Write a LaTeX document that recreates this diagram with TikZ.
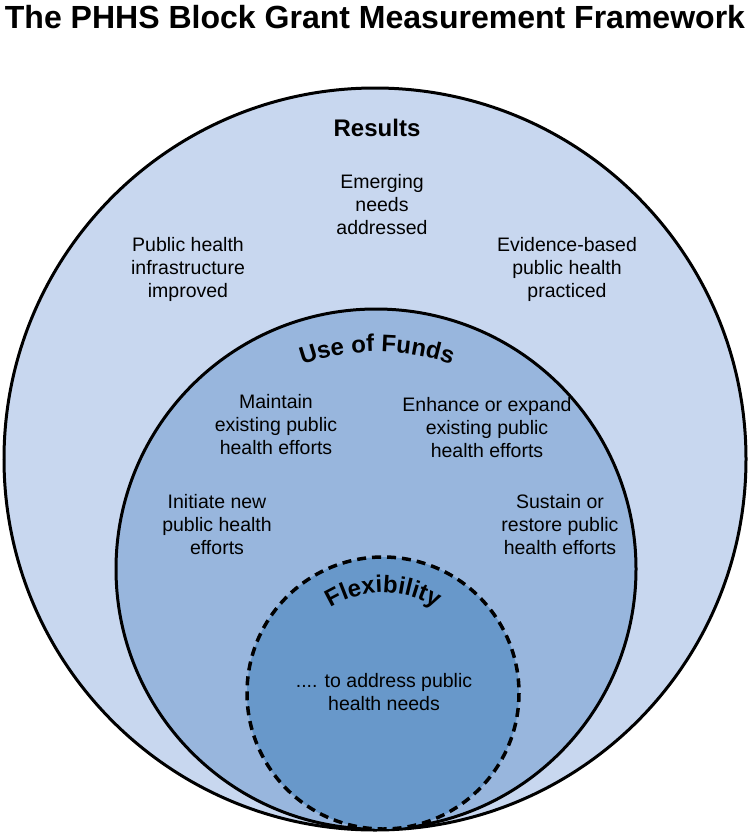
\documentclass[tikz,border=0pt]{standalone}
\usepackage{fontspec}
\setmainfont{Liberation Sans}
\usetikzlibrary{decorations.text}
\definecolor{cOut}{HTML}{C8D7EF}
\definecolor{cMid}{HTML}{98B6DD}
\definecolor{cIn}{HTML}{6898CA}
\tikzset{lbl/.style={align=center,font=\fontsize{19.5}{23}\selectfont},
hd/.style={font=\bfseries\fontsize{24}{28}\selectfont}}
\begin{document}
\begin{tikzpicture}[x=1pt,y=-1pt]
\useasboundingbox (0,0) rectangle (750,835);
\node[anchor=north] (title) at (375,2) {\resizebox{740pt}{!}{\bfseries The PHHS Block Grant Measurement Framework}};
\draw[line width=3pt,fill=cOut] (375,459) circle (371);
\draw[line width=3pt,fill=cMid] (376,569) circle (260);
\draw[line width=3.5pt,dash pattern=on 9pt off 6pt,fill=cIn] (383,693) circle (136);
\node[hd] (res) at (377,128) {Results};
\node[lbl] (e1) at (382,205) {Emerging\\needs\\addressed};
\node[lbl] (e2) at (188,269) {Public health\\infrastructure\\improved};
\node[lbl] (e3) at (567,269) {Evidence-based\\public health\\practiced};
\path[decorate,decoration={text along path,text align=center,text={|\bfseries\fontsize{24}{28}\selectfont|Use of Funds}}] (264,382) arc[start angle=-120,end angle=-60,radius=226];
\node[lbl] (u1) at (276,425) {Maintain\\existing public\\health efforts};
\node[lbl] (u2) at (487,428) {Enhance or expand\\existing public\\health efforts};
\node[lbl] (u3) at (217,525) {Initiate new\\public health\\efforts};
\node[lbl] (u4) at (560,525) {Sustain or\\restore public\\health efforts};
\path[decorate,decoration={text along path,text align=center,text={|\bfseries\fontsize{24}{28}\selectfont|Flexibility}}] (319,616) arc[start angle=-130,end angle=-50,radius=100];
\node[lbl] (f1) at (384,692) {.... to address public\\health needs};
\end{tikzpicture}
\end{document}
